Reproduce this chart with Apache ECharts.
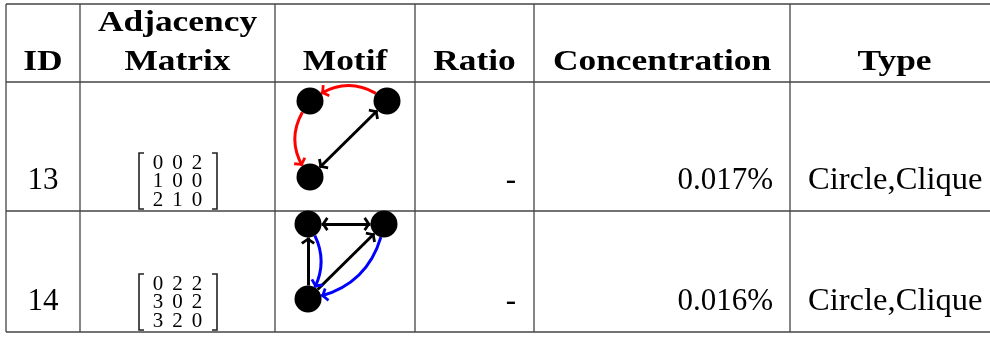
<!DOCTYPE html>
<html>
<head>
<meta charset="utf-8">
<script src="https://cdn.jsdelivr.net/npm/echarts@6/dist/echarts.min.js"></script>
<style>
html, body { margin: 0; padding: 0; background: #fff; }
#main { width: 990px; height: 337px; }
</style>
</head>
<body>
<div id="main"></div>
<script>
// table content
var headers = [['ID'], ['Adjacency', 'Matrix'], ['Motif'], ['Ratio'], ['Concentration'], ['Type']];
var motifIds = ['13', '14'];
var matrices = [
  [[0, 0, 2], [1, 0, 0], [2, 1, 0]],
  [[0, 2, 2], [3, 0, 2], [3, 2, 0]]
];
var ratios = ['-', '-'];
var concentrations = ['0.017%', '0.016%'];
var types = ['Circle,Clique', 'Circle,Clique'];

// motif nodes in a unit cell: top-left, top-right, bottom-left
var motifNodes = [[0, 1], [1, 1], [0, 0]];
// [source, target, colour, curveness, arrow at both ends]
var motifEdges = [
  [[1, 0, 'red', -0.4, false], [0, 2, 'red', -0.4, false], [1, 2, '#000', 0, true]],
  [[0, 1, '#000', 0, true], [2, 0, '#000', 0, false], [2, 1, '#000', 0, false],
   [0, 2, 'blue', 0.35, false], [1, 2, 'blue', 0.35, false]]
];

// layout
var colX = [6, 80, 275, 415, 534, 790, 999];
var rowY = [4, 82, 211, 332];
var motifBox = [[310, 101, 77, 76], [308, 224, 76, 75]];
var boldFont = 'bold 29px "Liberation Serif"';
var bodyFont = '31px "Liberation Serif"';
var matFont = '21px "Liberation Serif"';
var MID = 0.3375; // middle baseline offset (em)

// open chevron, tip at the centre of its box
var ARROW = 'path://M50,50L100,84L88,100L50,74L12,100L0,84ZM50,0L50.4,0.4L49.6,0.4Z';

function txt(x, baseline, size, str, font, align, sx) {
  return {
    type: 'text', x: x, y: baseline - MID * size, scaleX: sx || 1, silent: true,
    style: {
      text: str, font: font, fill: '#000',
      align: align, textAlign: align, verticalAlign: 'middle', textVerticalAlign: 'middle'
    }
  };
}

function line(x1, y1, x2, y2) {
  return {
    type: 'line', silent: true,
    shape: { x1: x1, y1: y1, x2: x2, y2: y2 },
    style: { stroke: '#444', lineWidth: 1.3 }
  };
}

var graphic = [];
rowY.forEach(function (y) { graphic.push(line(colX[0], y, 990, y)); });
colX.forEach(function (x) { if (x < 990) graphic.push(line(x, rowY[0], x, rowY[3])); });

headers.forEach(function (h, c) {
  var cx = (colX[c] + colX[c + 1]) / 2;
  var base = 72 - (h.length - 1) * 38.5;
  h.forEach(function (s, k) {
    graphic.push(txt(cx, base + k * 38.5, 29, s, boldFont, 'center', 1.22));
  });
});

motifIds.forEach(function (id, r) {
  var bottom = rowY[r + 2];
  var base = bottom - 20;
  graphic.push(txt((colX[0] + colX[1]) / 2, base, 31, id, bodyFont, 'center', 1));
  graphic.push(txt(colX[4] - 18, base, 31, ratios[r], bodyFont, 'right', 1));
  graphic.push(txt(colX[5] - 17, base, 31, concentrations[r], bodyFont, 'right', 1));
  graphic.push(txt(colX[5] + 18, base, 31, types[r], bodyFont, 'left', 1.05));

  // small bracketed matrix
  var top = bottom - 58, bot = bottom - 2, lx = 139, rx = 217;
  graphic.push({
    type: 'polyline', silent: true,
    shape: { points: [[lx + 5, top], [lx, top], [lx, bot], [lx + 5, bot]] },
    style: { stroke: '#222', lineWidth: 1.6, fill: null }
  });
  graphic.push({
    type: 'polyline', silent: true,
    shape: { points: [[rx - 5, top], [rx, top], [rx, bot], [rx - 5, bot]] },
    style: { stroke: '#222', lineWidth: 1.6, fill: null }
  });
  matrices[r].forEach(function (row, i) {
    row.forEach(function (v, j) {
      graphic.push(txt(158 + j * 19.5, bottom - 48 + i * 18.5 + MID * 21, 21, String(v), matFont, 'center', 1));
    });
  });
});

var option = {
  animation: false,
  backgroundColor: '#fff',
  graphic: graphic,
  grid: motifBox.map(function (b) {
    return { left: b[0], top: b[1], width: b[2], height: b[3], show: false };
  }),
  xAxis: motifBox.map(function (b, i) {
    return { gridIndex: i, type: 'value', min: 0, max: 1, show: false };
  }),
  yAxis: motifBox.map(function (b, i) {
    return { gridIndex: i, type: 'value', min: 0, max: 1, show: false };
  }),
  series: motifEdges.map(function (edges, i) {
    return {
      type: 'graph',
      coordinateSystem: 'cartesian2d',
      xAxisIndex: i,
      yAxisIndex: i,
      silent: true,
      z: 3,
      symbol: 'circle',
      symbolSize: 27,
      itemStyle: { color: '#000' },
      label: { show: false },
      emphasis: { disabled: true },
      lineStyle: { opacity: 1, width: 3 },
      edgeSymbol: ['none', 'arrow'],
      data: motifNodes.map(function (p, k) {
        return { name: String(k), value: p };
      }),
      links: edges.map(function (e) {
        return {
          source: String(e[0]),
          target: String(e[1]),
          symbol: [e[4] ? ARROW : 'circle', ARROW],
          symbolSize: [e[4] ? 14 : 0.1, 14],
          lineStyle: { color: e[2], width: 3, curveness: e[3], opacity: 1 }
        };
      })
    };
  })
};

var chart = echarts.init(document.getElementById('main'));
chart.setOption(option);
</script>
</body>
</html>
